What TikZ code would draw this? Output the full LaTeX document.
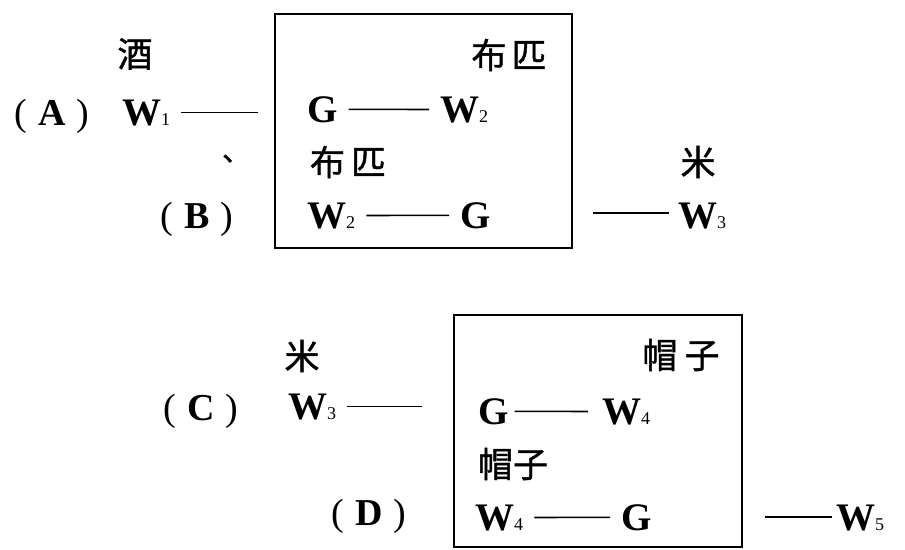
\documentclass[tikz,border=0pt]{standalone}
\usepackage{fontspec}
\setmainfont{Liberation Serif}
\newfontfamily\cjk[FakeBold=1.2]{Noto Sans CJK SC}
\newcommand\sbs[1]{{\fontsize{18}{18}\selectfont\mdseries #1}}
\tikzset{
  lat/.style={inner sep=0pt, anchor=base west, font=\fontsize{39}{40}\selectfont\bfseries},
  han/.style={inner sep=0pt, font=\fontsize{35}{40}\selectfont\cjk},
  par/.style={inner sep=0pt, font=\fontsize{38}{40}\selectfont},
  link/.style={line width=1.6pt, shorten <=11pt, shorten >=11pt},
  frame/.style={draw, line width=1.8pt, inner sep=0pt},
}
\begin{document}
\begin{tikzpicture}[x=1pt,y=-1pt]
\useasboundingbox (0,0) rectangle (905,549);
% ---------- upper part ----------
\node[frame, minimum width=297pt, minimum height=234pt] (box1) at (423.5,131) {};
\node[han] (jiu) at (135,54) {酒};
\node[par] (A) at (52,116) {(\hspace{11pt}\textbf{A}\hspace{11pt})};
\node[lat] (W1) at (122,125) {W\sbs{1}};
\coordinate (a1e) at (258,110);
\draw[link, shorten >=0pt] (W1) -- (W1 -| a1e);
\node[han, anchor=base west, font=\fontsize{28}{30}\selectfont\cjk] (dun) at (222,161) {、};
\node[par] (B) at (197,219) {(\hspace{11pt}\textbf{B}\hspace{11pt})};

\node[han] (bp1) at (509,55) {布\hspace{5pt}匹};
\node[lat] (G1) at (307,122) {G};
\node[lat] (W2a) at (440,122) {W\sbs{2}};
\draw[link] (G1.east) -- (W2a.west);
\node[han] (bp2) at (348,162) {布\hspace{6pt}匹};
\node[lat] (W2b) at (307,228) {W\sbs{2}};
\node[lat] (G2) at (460,228) {G};
\draw[link] (W2b.east) -- (G2.west);

\node[han] (mi1) at (698,162) {米};
\node[lat] (W3a) at (678,228) {W\sbs{3}};
\coordinate (b1s) at (593,213);
\draw[link, shorten <=0pt, shorten >=9pt] (b1s) -- (b1s -| W3a.west);
% ---------- lower part ----------
\node[frame, minimum width=288pt, minimum height=232pt] (box2) at (598,431) {};
\node[han] (mi2) at (302,356) {米};
\node[par] (C) at (201,411) {(\hspace{11pt}\textbf{C}\hspace{11pt})};
\node[lat] (W3b) at (288,419) {W\sbs{3}};
\coordinate (c1e) at (422,410);
\draw[link, shorten >=0pt] (W3b) -- (W3b -| c1e);

\node[han] (mz1) at (681,355) {帽\hspace{7pt}子};
\node[lat] (G3) at (478,424) {G};
\node[lat] (W4a) at (602,424) {W\sbs{4}};
\draw[link, shorten <=6pt, shorten >=14pt] (G3.east) -- (W4a.west);
\node[han] (mz2) at (513,464) {帽子};
\node[par] (D) at (369,516) {(\hspace{11pt}\textbf{D}\hspace{11pt})};
\node[lat] (W4b) at (475,530) {W\sbs{4}};
\node[lat] (G4) at (621,530) {G};
\draw[link] (W4b.east) -- (G4.west);
\coordinate (d1s) at (765,517);
\node[lat] (W5) at (836,530) {W\sbs{5}};
\draw[link, shorten <=0pt, shorten >=4pt] (d1s) -- (d1s -| W5.west);
\end{tikzpicture}
\end{document}
